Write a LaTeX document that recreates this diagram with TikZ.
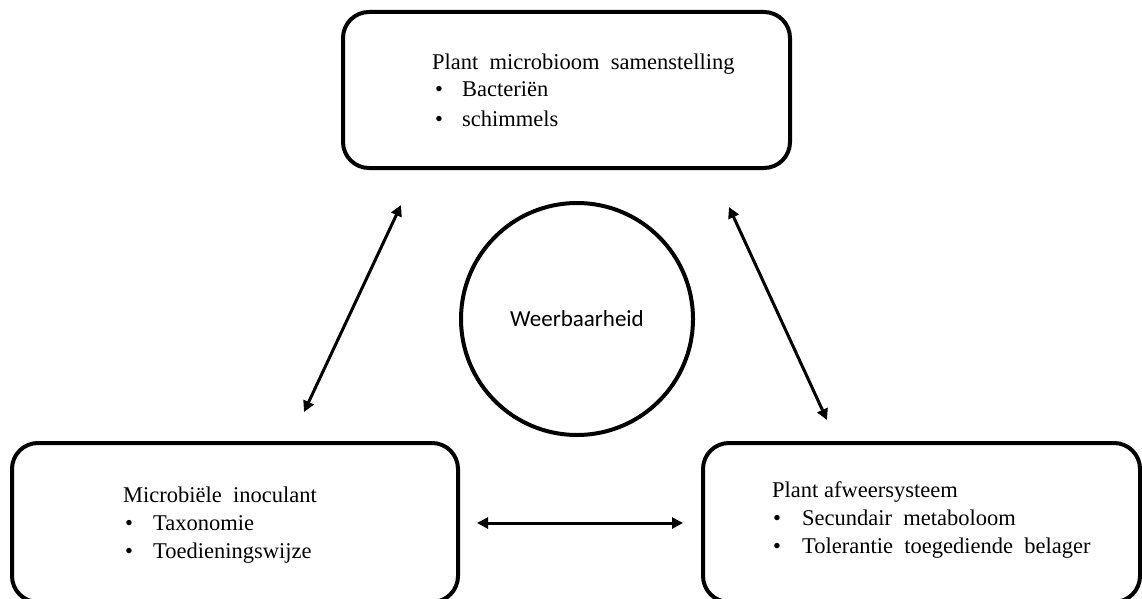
\documentclass[tikz,border=0pt]{standalone}
\usepackage{fontspec}
\setmainfont{Liberation Serif}
\newfontfamily\calfont{Carlito}
\usetikzlibrary{arrows.meta}
\begin{document}
\begin{tikzpicture}[x=1pt,y=-1pt,
  box/.style={draw, line width=4pt, rounded corners=26pt, inner sep=0pt},
  txt/.style={anchor=base west, inner sep=0pt, font=\fontsize{22.5}{28}\selectfont},
  link/.style={line width=3pt, {Triangle[length=11pt,width=11pt]}-{Triangle[length=11pt,width=11pt]}}]
\useasboundingbox (0,0) rectangle (1142,599);
% boxes
\node[box, minimum width=447pt, minimum height=156pt] (top) at (566.5,90) {};
\node[box, minimum width=446pt, minimum height=159pt] (left) at (235,522.5) {};
\node[box, minimum width=437pt, minimum height=159pt] (right) at (921.5,522.5) {};
\node[draw, circle, line width=4pt, minimum size=232pt, inner sep=0pt] (res) at (577,319) {};
\node[inner sep=0pt, font=\calfont\fontsize{23}{28}\selectfont] (restxt) at (res.center) {Weerbaarheid};
% top box text
\node[txt] (t0) at (432,70) {Plant\ \ microbioom\ \ samenstelling};
\node[txt] (t1b) at (435,97) {•};
\node[txt] (t1) at (462,97) {Bacteriën};
\node[txt] (t2b) at (435,126) {•};
\node[txt] (t2) at (462,126) {schimmels};
% left box text
\node[txt] (l0) at (123,502) {Microbiële\ \ inoculant};
\node[txt] (l1b) at (125,530) {•};
\node[txt] (l1) at (153,530) {Taxonomie};
\node[txt] (l2b) at (125,558) {•};
\node[txt] (l2) at (153,558) {Toedieningswijze};
% right box text
\node[txt] (r0) at (772,497) {Plant afweersysteem};
\node[txt] (r1b) at (773,525) {•};
\node[txt] (r1) at (802,525) {Secundair\ \ metaboloom};
\node[txt] (r2b) at (773,553) {•};
\node[txt] (r2) at (802,553) {Tolerantie\ \ toegediende\ \ belager};
% arrow ends
\coordinate (a1) at (304,412);
\coordinate (a2) at (401,205);
\coordinate (b1) at (729,207);
\coordinate (b2) at (827,420);
\coordinate (c1) at (477,523);
\coordinate (c2) at (683,523);
\draw[link] (a1) -- (a2);
\draw[link] (b1) -- (b2);
\draw[link] (c1) -- (c2);
\end{tikzpicture}
\end{document}
